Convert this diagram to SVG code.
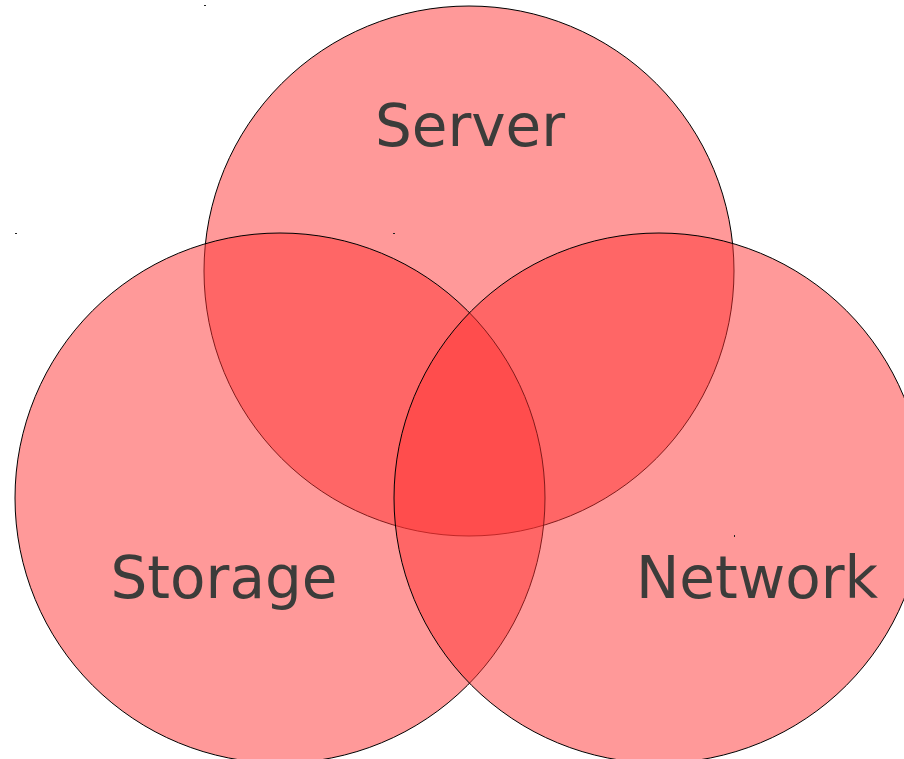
<svg xmlns="http://www.w3.org/2000/svg" width="904" height="759" viewBox="0 0 904 759">
  <style>
    .set { fill: #ff3333; fill-opacity: 0.5; stroke: #000000; stroke-width: 1; }
    .label { font-family: "DejaVu Sans", "Liberation Sans", sans-serif; font-size: 58px; fill: #3c3c3a; text-anchor: middle; }
    .mark { fill: #222222; }
  </style>
  <rect width="904" height="759" fill="#ffffff"/>
  <g id="server">
    <circle class="set" cx="469" cy="271" r="265"/>
  </g>
  <g id="storage">
    <circle class="set" cx="280" cy="498" r="265"/>
  </g>
  <g id="network">
    <circle class="set" cx="659" cy="498" r="265"/>
  </g>
  <g id="labels">
    <text class="label" x="470" y="146">Server</text>
    <text class="label" x="224" y="598">Storage</text>
    <text class="label" x="757" y="598">Network</text>
  </g>
  <g id="corner-marks">
    <rect class="mark" x="204" y="5" width="2" height="1"/>
    <rect class="mark" x="15" y="233" width="2" height="1"/>
    <rect class="mark" x="393" y="233" width="2" height="1"/>
    <rect class="mark" x="734" y="535" width="1" height="2"/>
  </g>
</svg>
